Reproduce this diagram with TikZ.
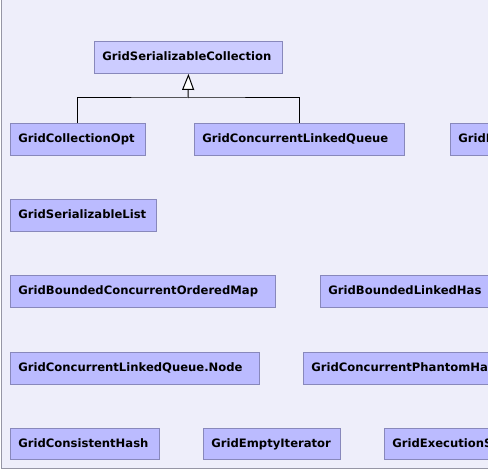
\documentclass[tikz,border=0pt]{standalone}
\usepackage{fontspec}
\setmainfont{DejaVu Sans}
\usetikzlibrary{arrows.meta}
\definecolor{canvas}{RGB}{238,238,250}
\definecolor{frameline}{RGB}{150,150,165}
\definecolor{classfill}{RGB}{187,187,255}
\definecolor{basefill}{RGB}{204,204,255}
\definecolor{classline}{RGB}{136,136,187}
\tikzset{
  cls/.style={draw=classline, fill=classfill, line width=0.9pt,
    anchor=north west, minimum height=32pt, inner xsep=8pt, inner ysep=0pt,
    text height=10pt, text depth=3pt,
    align=left, font=\bfseries\fontsize{11.6}{14}\selectfont},
  basecls/.style={cls, fill=basefill},
  clipped/.style={cls, text width=300pt},
  inherit/.style={draw=black, line width=1pt},
}
\begin{document}
\begin{tikzpicture}[x=1pt,y=-1pt]
  \useasboundingbox (0,0) rectangle (488,470);
  \clip (0,0) rectangle (488,470);
  \fill[white] (0,0) rectangle (488,470);
  \fill[canvas] (1.5,-2) rectangle (490,468.5);
  \draw[frameline, line width=1pt] (1.5,-2) -- (1.5,468.5) -- (490,468.5);

  % class boxes
  \node[basecls, text width=172pt] (coll) at (94,41) {GridSerializableCollection};
  \node[cls, text width=119pt] (opt) at (10,123) {GridCollectionOpt};
  \node[cls, text width=194pt] (queue) at (194,123) {GridConcurrentLinkedQueue};
  \node[clipped] (lean) at (450,123) {GridL};
  \node[cls, text width=130pt] (slist) at (10,199) {GridSerializableList};
  \node[cls, text width=249pt] (bmap) at (10,275) {GridBoundedConcurrentOrderedMap};
  \node[clipped] (blhash) at (320,275) {GridBoundedLinkedHas};
  \node[cls, text width=233pt] (qnode) at (10,352) {GridConcurrentLinkedQueue.Node};
  \node[clipped] (phantom) at (303,352) {GridConcurrentPhantomHa};
  \node[cls, text width=133pt, minimum height=31pt] (chash) at (10,428) {GridConsistentHash};
  \node[cls, text width=121pt, minimum height=31pt] (empty) at (203,428) {GridEmptyIterator};
  \node[clipped, minimum height=31pt] (exec) at (384,428) {GridExecutionS};

  % generalization
  \coordinate (jn) at (188,98);
  \draw[inherit] (opt.north) |- (jn) -| (queue.north);
  \draw[inherit, -{Triangle[length=16pt, width=12pt, fill=white]}] (jn) -- (coll.south);
\end{tikzpicture}
\end{document}
